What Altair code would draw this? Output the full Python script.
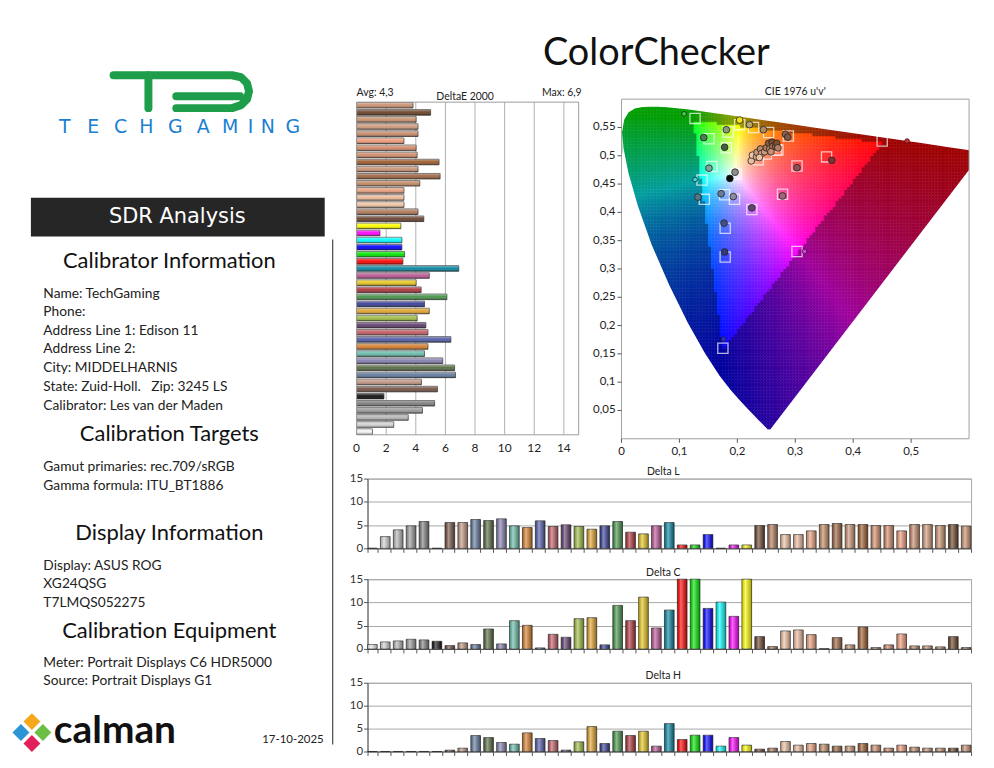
import altair as alt
import pandas as pd

alt.data_transformers.disable_max_rows()
FONT = "Lato"

# ---------------- ColorChecker patches (order of the Delta L/C/H charts, left -> right) ----------------
patch_colors = [
    '#f2f2f2', '#d2d2d2', '#b6b6b6', '#9a9a9a', '#7e7e7e', '#0e0e0e',
    '#735244', '#c29682', '#627a9d', '#576c43', '#8580b1', '#67bdaa', '#d67e2c', '#505ba6',
    '#c15a63', '#5e3c6c', '#9dbc40', '#e0a32e', '#383d96', '#469449', '#af363c', '#e7c71f',
    '#bb5695', '#0885a1',
    '#ff0000', '#00e600', '#0000ff', '#00ffff', '#ff00ff', '#ffff00',
    '#6b4430', '#b07a5a', '#f0c4a4', '#efbc9c', '#e8a07c', '#c08a62', '#9a6440', '#c89272',
    '#9c5a2c', '#d08c6a', '#d28a68', '#f09c7a', '#c68c6a', '#d09a7a', '#c8926e', '#6a4228',
    '#c88e6e']
delta_e = [1.07, 2.51, 3.49, 4.45, 5.27, 1.85,
           5.46, 4.38, 6.68, 6.62, 5.82, 4.59, 4.82, 6.37, 4.82, 4.68, 4.09, 4.91, 4.59, 6.10,
           4.36, 4.02, 4.91, 6.90,
           3.13, 3.24, 3.06, 3.06, 1.58, 2.99,
           4.54, 4.15, 3.20, 3.20, 3.20, 4.27, 5.64, 4.15, 5.57, 4.09, 4.02, 3.20, 4.15, 4.15,
           4.02, 5.00, 3.81]
delta_l = [0.0, 2.52, 3.97, 4.83, 5.77, 0.0,
           5.55, 5.55, 6.20, 5.98, 6.34, 4.83, 4.47, 5.91, 4.69, 5.05, 4.69, 4.11, 4.83, 5.77,
           3.46, 3.10, 4.83, 5.55,
           0.72, 0.72, 2.96, 0.0, 0.72, 0.72,
           4.90, 5.12, 2.96, 2.96, 3.75, 5.12, 5.34, 5.12, 5.12, 4.90, 4.90, 3.75, 5.12, 5.12,
           4.90, 5.12, 4.76]
delta_c = [0.93, 1.50, 1.71, 2.07, 1.93, 1.64,
           0.71, 1.29, 0.93, 4.29, 1.07, 6.07, 5.07, 0.21, 3.14, 2.50, 6.50, 6.71, 0.86, 9.36,
           6.07, 11.14, 4.50, 8.36,
           19.5, 24.0, 8.71, 10.07, 7.00, 17.5,
           2.64, 0.50, 3.86, 4.07, 3.07, 0.05, 2.43, 0.86, 4.71, 0.29, 0.86, 3.21, 0.64, 0.64,
           0.43, 2.64, 0.29]
delta_h = [0.0, 0.0, 0.0, 0.0, 0.0, 0.0,
           0.29, 0.72, 3.48, 3.04, 1.96, 1.59, 4.06, 2.83, 2.39, 0.29, 2.10, 5.43, 1.74, 4.42,
           3.48, 4.42, 1.16, 6.09,
           2.61, 3.55, 3.55, 1.16, 3.04, 1.38,
           0.51, 0.72, 2.17, 1.38, 1.74, 1.59, 1.16, 1.16, 1.74, 1.38, 0.72, 1.38, 0.94, 0.72,
           0.72, 0.72, 1.38]
de_ticks = [0, 2, 4, 6, 8, 10, 12, 14]
de_tick_labels = ['0', '2', '4', '6', '8', '10', '12', '14']

# ---------------- CIE 1976 u'v' ----------------
target_u = [0.127, 0.450, 0.175, 0.204, 0.139, 0.303, 0.228, 0.254, 0.288, 0.151, 0.184, 0.267,
            0.181, 0.156, 0.143, 0.178, 0.195, 0.225, 0.278, 0.303, 0.354, 0.179, 0.179, 0.198,
            0.236, 0.250, 0.262, 0.270]
target_v = [0.566, 0.526, 0.160, 0.555, 0.457, 0.331, 0.550, 0.541, 0.535, 0.530, 0.542, 0.510,
            0.514, 0.481, 0.423, 0.431, 0.423, 0.405, 0.432, 0.482, 0.498, 0.372, 0.321, 0.468,
            0.493, 0.503, 0.516, 0.510]

meas_u = [0.108, 0.493, 0.176, 0.127, 0.316,
          0.204, 0.221, 0.245, 0.283, 0.287, 0.181, 0.142, 0.178, 0.151, 0.196, 0.187, 0.132,
          0.172, 0.193, 0.225, 0.278, 0.303, 0.363, 0.177, 0.178,
          0.224, 0.226, 0.233, 0.234, 0.240, 0.242, 0.247, 0.250, 0.254, 0.256, 0.260, 0.261,
          0.266, 0.268, 0.270, 0.238, 0.258]
meas_v = [0.574, 0.526, 0.176, 0.458, 0.331,
          0.563, 0.555, 0.546, 0.538, 0.533, 0.546, 0.532, 0.515, 0.478, 0.471, 0.460, 0.427,
          0.433, 0.428, 0.408, 0.429, 0.479, 0.492, 0.381, 0.330,
          0.491, 0.501, 0.498, 0.506, 0.512, 0.504, 0.507, 0.514, 0.522, 0.512, 0.524, 0.516,
          0.517, 0.522, 0.514, 0.497, 0.507]
meas_color = ['#3fcf3f', '#e8262a', '#2a2ad8', '#35dde6', '#e437e4',
              '#f2e21e', '#b8a468', '#b08a66', '#8c6050', '#7a5a4c', '#8c9a7a', '#4e7e56',
              '#46603e', '#78a898', '#8e8e8e', '#0a0a0a', '#557888', '#6a7a98', '#8a8aa6',
              '#62466e', '#a26878', '#8e5452', '#7e3234', '#44508a', '#343a7c',
              '#e8c0a0', '#f0c8a8', '#d8a888', '#c89878', '#b88a68', '#e0a888', '#d09878',
              '#b07a58', '#8a5a3a', '#c08868', '#7a4a30', '#a87050', '#9a6444', '#80502e',
              '#b88060', '#f0c0a0', '#c89070']
meas_kind = ['primary'] * 5 + ['patch'] * 37

cie_x_ticks = [0, 0.1, 0.2, 0.3, 0.4, 0.5]
cie_x_labels = ['0', '0,1', '0,2', '0,3', '0,4', '0,5']
cie_y_ticks = [0.05, 0.1, 0.15, 0.2, 0.25, 0.3, 0.35, 0.4, 0.45, 0.5, 0.55]
cie_y_labels = ['0,05', '0,1', '0,15', '0,2', '0,25', '0,3', '0,35', '0,4', '0,45', '0,5',
                '0,55']

# CIE 1931 spectral locus (380..700 nm) expressed in u'v'
locus_u = [0.2568, 0.2522, 0.2347, 0.2161, 0.2033, 0.1877, 0.1690, 0.1441, 0.1147, 0.0828,
           0.0521, 0.0282, 0.0119, 0.0035, 0.0014, 0.0046, 0.0123, 0.0231, 0.0360, 0.0501,
           0.0643, 0.0792, 0.0953, 0.1127, 0.1531, 0.2026, 0.2623, 0.3315, 0.4035, 0.4692,
           0.5203, 0.5565, 0.5830, 0.6005, 0.6234]
locus_v = [0.0166, 0.0169, 0.0350, 0.0549, 0.0688, 0.0871, 0.1119, 0.1510, 0.2044, 0.2708,
           0.3427, 0.4117, 0.4698, 0.5131, 0.5432, 0.5638, 0.5770, 0.5837, 0.5861, 0.5868,
           0.5865, 0.5856, 0.5841, 0.5821, 0.5766, 0.5694, 0.5604, 0.5501, 0.5393, 0.5296,
           0.5219, 0.5165, 0.5125, 0.5099, 0.5065]

# ---------------- left panel text ----------------
heading_texts = ["Calibrator Information", "Calibration Targets", "Display Information",
                 "Calibration Equipment"]
body_texts = ["Name: TechGaming", "Phone:", "Address Line 1: Edison 11", "Address Line 2:",
              "City: MIDDELHARNIS", "State: Zuid-Holl.\u00a0\u00a0 Zip: 3245 LS",
              "Calibrator: Les van der Maden",
              "Gamut primaries: rec.709/sRGB", "Gamma formula: ITU_BT1886",
              "Display: ASUS ROG", "XG24QSG", "T7LMQS052275",
              "Meter: Portrait Displays C6 HDR5000", "Source: Portrait Displays G1"]
logo_letters = list("TECHGAMING")

# layout positions (left panel, pixels)
heading_y = [252, 425.3, 524.3, 623]
body_y = [284.3, 303, 321.7, 340.3, 359.3, 378.3, 397.3, 458.7, 477, 557.7, 576.3, 595.3,
          655.3, 673.7]
letter_x = [56, 84.5, 112, 138, 167, 195, 222, 242.5, 260, 285]
logo_path_id = ['a'] * 9 + ['b'] * 2 + ['c'] * 2
logo_x = [105, 224, 233, 239, 241, 239, 233, 224, 168, 140, 140, 168, 232]
logo_y = [65, 65, 67, 73, 81, 89, 95, 98, 98, 65, 98, 86, 86]
calman_x = [23, 12, 34, 23]
calman_y = [714, 725, 725, 736]
calman_cols = ['#f6a81c', '#2b95d6', '#6cbf45', '#e2215c']


# ---------------- helpers ----------------
def spacer(w, h):
    return alt.Chart(pd.DataFrame({'z': [0]})).mark_point(opacity=0).encode(
        x=alt.value(0), y=alt.value(0)).properties(width=w, height=h)


def inside(px, py):
    n = len(locus_u)
    c = False
    j = n - 1
    for i in range(n):
        xi, yi, xj, yj = locus_u[i], locus_v[i], locus_u[j], locus_v[j]
        if (yi > py) != (yj > py):
            if px < (xj - xi) * (py - yi) / (yj - yi) + xi:
                c = not c
        j = i
    return c


def uv_color(u, v):
    v = max(v, 0.002)
    d = 6 * u - 16 * v + 12
    x = 9 * u / d
    y = 4 * v / d
    X = x / y
    Y = 1.0
    Z = (1 - x - y) / y
    r = 3.2406 * X - 1.5372 * Y - 0.4986 * Z
    g = -0.9689 * X + 1.8758 * Y + 0.0415 * Z
    b = 0.0557 * X - 0.2040 * Y + 1.0570 * Z
    ing = min(r, g, b) >= 0
    r, g, b = max(r, 0), max(g, 0), max(b, 0)
    m = max(r, g, b, 1e-9)
    k = 1.0 if ing else 0.62
    vals = [k * ((c / m) ** 0.8) for c in (r, g, b)]
    return '#%02x%02x%02x' % tuple(int(round(255 * min(1.0, c))) for c in vals)


STEP = 0.005
cells = []
NC = int(round(0.6 / STEP))
for i in range(NC):
    for j in range(NC):
        u0, v0 = i * STEP, j * STEP
        u1, v1 = u0 + STEP, v0 + STEP
        pts = ((u0, v0), (u1, v0), (u0, v1), (u1, v1), (u0 + STEP / 2, v0 + STEP / 2))
        if any(inside(a, b) for a, b in pts):
            cells.append((u0, u1, v0, v1, uv_color(u0 + STEP / 2, v0 + STEP / 2)))
raster_df = pd.DataFrame(cells, columns=['u0', 'u1', 'v0', 'v1', 'c'])

# white masks outside the horseshoe
i505 = 14
low_u = list(reversed(locus_u[:i505 + 1])) + [locus_u[-1]]
low_v = list(reversed(locus_v[:i505 + 1])) + [locus_v[-1]]
top_u = [0.0] + locus_u[i505:]
top_v = [locus_v[i505]] + locus_v[i505:]

df = pd.DataFrame({'i': list(range(len(patch_colors))), 'color': patch_colors,
                   'dE': delta_e, 'dL': delta_l, 'dC': delta_c, 'dH': delta_h})

grad_h = alt.LinearGradient(gradient='linear', x1=0, y1=0, x2=0, y2=1, stops=[
    alt.GradientStop(offset=0, color='rgba(255,255,255,0.45)'),
    alt.GradientStop(offset=0.45, color='rgba(255,255,255,0.05)'),
    alt.GradientStop(offset=1, color='rgba(0,0,0,0.35)')])
grad_v = alt.LinearGradient(gradient='linear', x1=0, y1=0, x2=1, y2=0, stops=[
    alt.GradientStop(offset=0, color='rgba(0,0,0,0.15)'),
    alt.GradientStop(offset=0.35, color='rgba(255,255,255,0.40)'),
    alt.GradientStop(offset=1, color='rgba(0,0,0,0.35)')])

# ================= top row: title + DeltaE 2000 + CIE (one layer, own scales) =================
E_L, E_R, E_T, E_B = -11, 212, 92, 426       # DeltaE plot rectangle
C_L, C_R, C_T, C_B = 255, 604, 89, 430       # CIE plot rectangle

sEx = alt.Scale(domain=[0, 15], range=[E_L, E_R], nice=False, zero=False)
sEy = alt.Scale(range=[E_T, E_B], paddingInner=0.22, paddingOuter=0.05)
sCx = alt.Scale(domain=[0, 0.6], range=[C_L, C_R], nice=False, zero=False)
sCy = alt.Scale(domain=[0, 0.6], range=[C_B, C_T], nice=False, zero=False)


def EX(f):
    return alt.X(f, scale=sEx, axis=None)


def EY():
    return alt.Y('i:O', sort='descending', scale=sEy, axis=None)


def CX(f):
    return alt.X(f, scale=sCx, axis=None)


def CY(f):
    return alt.Y(f, scale=sCy, axis=None)


one = pd.DataFrame({'z': [0]})
title_txt = alt.Chart(pd.DataFrame({'t': ['ColorChecker']})).mark_text(
    fontSize=38, font=FONT, color='#111', align='center', baseline='alphabetic').encode(
    text='t:N', x=alt.value(290), y=alt.value(55))

tick_df = pd.DataFrame({'g': de_ticks, 't': de_tick_labels})
e_grid = alt.Chart(tick_df[tick_df.g > 0]).mark_rule(color='#9c9c9c', strokeWidth=0.8).encode(
    x=EX('g:Q'), y=alt.value(E_T), y2=alt.value(E_B))
e_bars = alt.Chart(df).mark_bar(stroke='#2b2b2b', strokeWidth=0.7).encode(
    y=EY(), x=EX('dE:Q'), color=alt.Color('color:N', scale=None))
e_shade = alt.Chart(df).mark_bar(fill=grad_h).encode(y=EY(), x=EX('dE:Q'))
e_frame = alt.Chart(one).mark_rect(filled=False, stroke='#9c9c9c', strokeWidth=1).encode(
    x=alt.value(E_L), x2=alt.value(E_R), y=alt.value(E_T), y2=alt.value(E_B))
e_labels = alt.Chart(tick_df).mark_text(fontSize=12, font=FONT, color='#222',
                                        baseline='middle').encode(
    x=EX('g:Q'), y=alt.value(E_B + 13), text='t:N')
stats = alt.Chart(df).transform_aggregate(avg='mean(dE)', mx='max(dE)').transform_calculate(
    avg_t="'Avg: ' + replace(format(datum.avg, '.1f'), '.', ',')",
    max_t="'Max: ' + replace(format(datum.mx, '.1f'), '.', ',')")
e_avg = stats.mark_text(align='left', baseline='middle', fontSize=10.5, font=FONT,
                        color='#222').encode(x=alt.value(E_L), y=alt.value(E_T - 9),
                                             text='avg_t:N')
e_max = stats.mark_text(align='right', baseline='middle', fontSize=10.5, font=FONT,
                        color='#222').encode(x=alt.value(E_R + 3), y=alt.value(E_T - 9),
                                             text='max_t:N')
e_title = alt.Chart(pd.DataFrame({'t': ['DeltaE 2000']})).mark_text(
    fontSize=10.5, font=FONT, color='#222', baseline='middle').encode(
    x=alt.value(98), y=alt.value(E_T - 5), text='t:N')

raster = alt.Chart(raster_df).mark_rect(strokeWidth=0.5).encode(
    x=CX('u0:Q'), x2='u1:Q', y=CY('v0:Q'), y2='v1:Q',
    color=alt.Color('c:N', scale=None), stroke=alt.Stroke('c:N', scale=None))
mask_low = alt.Chart(pd.DataFrame({'u': low_u, 'v': low_v})).mark_area(
    color='white', clip=True).encode(x=CX('u:Q'), y=CY('v:Q'), y2=alt.datum(0))
mask_top = alt.Chart(pd.DataFrame({'u': top_u, 'v': top_v})).mark_area(
    color='white', clip=True).encode(x=CX('u:Q'), y=CY('v:Q'), y2=alt.datum(0.6))
mask_right = alt.Chart(one).mark_rect(color='white').encode(
    x=alt.value(C_R), x2=alt.value(620), y=alt.value(C_T - 2), y2=alt.value(C_B))
c_frame = alt.Chart(one).mark_rect(filled=False, stroke='#a0a0a0', strokeWidth=1).encode(
    x=alt.value(C_L), x2=alt.value(C_R), y=alt.value(C_T), y2=alt.value(C_B))
targets = alt.Chart(pd.DataFrame({'u': target_u, 'v': target_v})).mark_square(
    filled=False, stroke='white', strokeWidth=1.3, size=105).encode(x=CX('u:Q'), y=CY('v:Q'))
meas = alt.Chart(pd.DataFrame({'u': meas_u, 'v': meas_v, 'c': meas_color,
                               'k': meas_kind})).mark_point(
    filled=True, shape='circle', stroke='#222', strokeWidth=0.8, opacity=1).encode(
    x=CX('u:Q'), y=CY('v:Q'), color=alt.Color('c:N', scale=None),
    size=alt.Size('k:N', scale=alt.Scale(domain=['patch', 'primary'], range=[46, 22]),
                  legend=None))
cx_df = pd.DataFrame({'g': cie_x_ticks, 't': cie_x_labels})
cy_df = pd.DataFrame({'g': cie_y_ticks, 't': cie_y_labels})
c_xticks = alt.Chart(cx_df).mark_rule(color='#555').encode(
    x=CX('g:Q'), y=alt.value(C_B), y2=alt.value(C_B + 4))
c_yticks = alt.Chart(cy_df).mark_rule(color='#555').encode(
    y=CY('g:Q'), x=alt.value(C_L - 4), x2=alt.value(C_L))
c_xlab = alt.Chart(cx_df).mark_text(fontSize=11.5, font=FONT, color='#222',
                                    baseline='middle').encode(
    x=CX('g:Q'), y=alt.value(C_B + 13), text='t:N')
c_ylab = alt.Chart(cy_df).mark_text(fontSize=11.5, font=FONT, color='#222', align='right',
                                    baseline='middle').encode(
    y=CY('g:Q'), x=alt.value(C_L - 6), text='t:N')
c_title = alt.Chart(pd.DataFrame({'t': ["CIE 1976 u'v'"]})).mark_text(
    fontSize=10.5, font=FONT, color='#222', baseline='middle').encode(
    x=alt.value((C_L + C_R) / 2), y=alt.value(C_T - 7), text='t:N')

top_row = alt.layer(
    title_txt, e_grid, e_bars, e_shade, e_frame, e_labels, e_avg, e_max, e_title,
    raster, mask_low, mask_top, mask_right, c_frame, targets, meas,
    c_xticks, c_yticks, c_xlab, c_ylab, c_title
).resolve_scale(x='independent', y='independent').properties(width=606, height=430)


# ---------------- Delta L / C / H ----------------
def delta_chart(field, title, h):
    x = alt.X('i:O', scale=alt.Scale(paddingInner=0.25, paddingOuter=0),
              axis=alt.Axis(labels=False, title=None, tickSize=4, tickColor='#555',
                            domainColor='#555', tickBand='extent', grid=False))
    y = alt.Y(f'{field}:Q', scale=alt.Scale(domain=[0, 15], nice=False, clamp=True),
              axis=alt.Axis(values=[0, 5, 10, 15], grid=True, gridColor='#a8a8a8',
                            tickSize=4, tickColor='#555', domainColor='#555',
                            labelFontSize=11.5, labelColor='#333', labelPadding=1,
                            title=None, labelFont=FONT))
    bars = alt.Chart(df).mark_bar(stroke='#2b2b2b', strokeWidth=0.7).encode(
        x=x, y=y, color=alt.Color('color:N', scale=None))
    shade = alt.Chart(df).mark_bar(fill=grad_v).encode(x=x, y=y)
    return alt.layer(bars, shade).properties(
        width=606, height=h,
        title=alt.TitleParams(title, fontSize=10.5, font=FONT, fontWeight='normal',
                              color='#222', offset=2, dy=7, dx=-6),
        view=alt.ViewBackground(stroke='#a8a8a8'))


dL = delta_chart('dL', 'Delta L', 70)
dC = delta_chart('dC', 'Delta C', 70)
dH = delta_chart('dH', 'Delta H', 69)

# ---------------- left panel ----------------
XS = alt.Scale(domain=[0, 360], nice=False, zero=False)
YS = alt.Scale(domain=[0, 744], nice=False, zero=False, reverse=True)


def LX(f='x'):
    return alt.X(f'{f}:Q', scale=XS, axis=None)


def LY(f='y'):
    return alt.Y(f'{f}:Q', scale=YS, axis=None)


logo = alt.Chart(pd.DataFrame({'p': logo_path_id, 'x': logo_x, 'y': logo_y,
                               'o': list(range(len(logo_x)))})).mark_line(
    strokeWidth=8, strokeCap='round', strokeJoin='round', color='#1e9e4a').encode(
    x=LX(), y=LY(), detail='p:N', order='o:Q')
letters = alt.Chart(pd.DataFrame({'t': logo_letters, 'x': letter_x,
                                  'y': [117] * len(logo_letters)})).mark_text(
    fontSize=19, font='DejaVu Sans', color='#1b7fd2').encode(x=LX(), y=LY(), text='t:N')
sdr_box = alt.Chart(pd.DataFrame({'x': [22], 'x2': [317], 'y': [188], 'y2': [227]})).mark_rect(
    color='#262626').encode(x=LX(), x2='x2:Q', y=LY(), y2='y2:Q')
sdr_text = alt.Chart(pd.DataFrame({'t': ['SDR Analysis'], 'x': [169], 'y': [207.5]})).mark_text(
    fontSize=21, font='DejaVu Sans', color='white').encode(x=LX(), y=LY(), text='t:N')
heads = alt.Chart(pd.DataFrame({'t': heading_texts, 'x': [161] * 4, 'y': heading_y})).mark_text(
    fontSize=22, font=FONT, color='#111', align='center').encode(x=LX(), y=LY(), text='t:N')
body = alt.Chart(pd.DataFrame({'t': body_texts, 'x': [34.5] * len(body_texts),
                               'y': body_y})).mark_text(
    fontSize=13.8, font=FONT, color='#222', align='left').encode(x=LX(), y=LY(), text='t:N')
vline = alt.Chart(pd.DataFrame({'x': [325], 'y': [230], 'y2': [737]})).mark_rule(
    color='#555', strokeWidth=1.3).encode(x=LX(), y=LY(), y2='y2:Q')
cal_icon = alt.Chart(pd.DataFrame({'x': calman_x, 'y': calman_y, 'c': calman_cols})).mark_point(
    shape='diamond', filled=True, size=290, opacity=1).encode(
    x=LX(), y=LY(), color=alt.Color('c:N', scale=None))
cal_text = alt.Chart(pd.DataFrame({'t': ['calman'], 'x': [45], 'y': [723]})).mark_text(
    fontSize=39, font=FONT, fontWeight='bold', color='#111', align='left').encode(
    x=LX(), y=LY(), text='t:N')
date_text = alt.Chart(pd.DataFrame({'t': ['17-10-2025'], 'x': [316], 'y': [732.7]})).mark_text(
    fontSize=11.5, font=FONT, color='#222', align='right').encode(x=LX(), y=LY(), text='t:N')
left = alt.layer(logo, letters, sdr_box, sdr_text, heads, body, vline, cal_icon, cal_text,
                 date_text).properties(width=360, height=744)

# ---------------- layout ----------------
right = alt.vconcat(top_row, spacer(606, 40), dL, spacer(606, 31), dC, spacer(606, 34), dH,
                    spacing=0, bounds='flush')

chart = alt.hconcat(left, right, spacing=0, bounds='flush').properties(
    padding=0, background='white'
).configure_view(stroke='transparent').configure_axis(labelFont=FONT).configure_title(
    font=FONT)

chart.save("out.html", embed_options={"renderer": "svg", "actions": False})
